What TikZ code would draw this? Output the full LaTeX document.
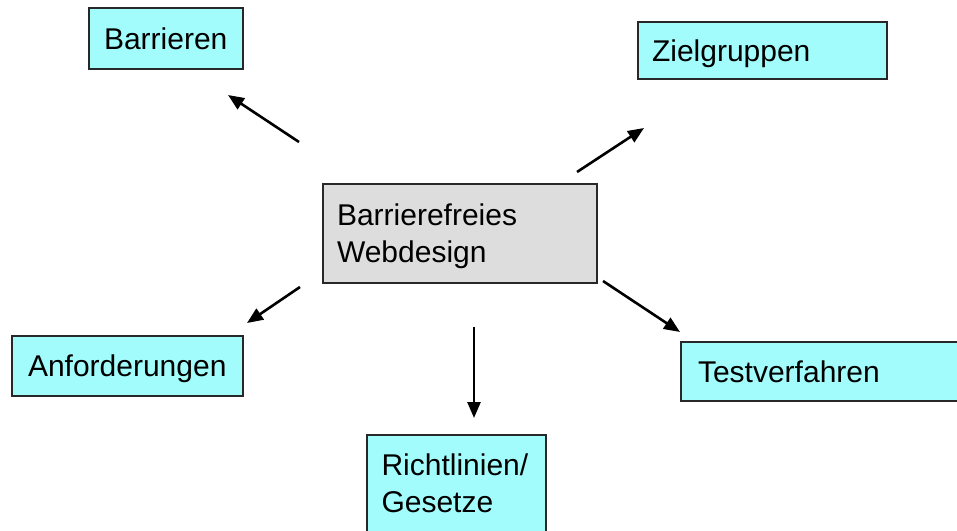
\documentclass[tikz,border=0pt]{standalone}
\usepackage{fontspec}
\setmainfont{Liberation Sans}
\usetikzlibrary{arrows.meta}
\definecolor{leafcyan}{RGB}{163,252,252}
\definecolor{hubgray}{RGB}{221,221,221}
\definecolor{edgegray}{RGB}{40,40,40}
\tikzset{
  box/.style={draw=edgegray, line width=2pt, rectangle, inner ysep=0pt,
    align=left, font=\fontsize{30}{37}\selectfont, text=black},
  leaf/.style={box, fill=leafcyan},
  hub/.style={box, fill=hubgray},
  oneline/.style={text height=21.5pt, text depth=0pt},
  twoline/.style={text height=21.5pt, text depth=37pt},
  link/.style={line width=2.6pt, -{Triangle[length=16pt,width=13pt]}}
}
\begin{document}
\begin{tikzpicture}[x=1pt,y=-1pt]
  \useasboundingbox (0,0) rectangle (957,530);
  \clip (0,0) rectangle (957,530);

  % central topic
  \node[hub, twoline, minimum width=274pt, minimum height=99pt,
        inner xsep=14pt, text width=246pt] (hub) at (460,233.5)
        {Barrierefreies\\Webdesign};

  % surrounding topics
  \node[leaf, oneline, minimum width=154pt, minimum height=61pt,
        inner xsep=15pt, text width=124pt] (barr) at (166,38.5) {Barrieren};
  \node[leaf, oneline, minimum width=249pt, minimum height=57pt,
        inner xsep=14pt, text width=221pt] (ziel) at (762.5,50.5) {Zielgruppen};
  \node[leaf, oneline, minimum width=231pt, minimum height=60pt,
        inner xsep=16pt, text width=199pt] (anf) at (127.5,366) {Anforderungen};
  \node[leaf, oneline, minimum width=289pt, minimum height=59pt,
        inner xsep=17pt, text width=255pt] (test) at (825.5,371.5) {Testverfahren};
  \node[leaf, twoline, anchor=north, minimum width=179pt,
        inner xsep=14.5pt, text width=150pt, inner ysep=19pt,
        text depth=75pt] (richt) at (456.5,434) {Richtlinien/\\Gesetze};

  % arrow end points
  \coordinate (barrS) at (299,142);  \coordinate (barrE) at (228,95);
  \coordinate (zielS) at (577,172);  \coordinate (zielE) at (644,128);
  \coordinate (anfS)  at (300,287);  \coordinate (anfE)  at (247,323);
  \coordinate (testS) at (603,281);  \coordinate (testE) at (680,332);
  \coordinate (richtS) at (474,327); \coordinate (richtE) at (474,418);

  \draw[link] (barrS) -- (barrE);
  \draw[link] (zielS) -- (zielE);
  \draw[link] (anfS) -- (anfE);
  \draw[link] (testS) -- (testE);
  \draw[link] (richtS) -- (richtE);
\end{tikzpicture}
\end{document}
